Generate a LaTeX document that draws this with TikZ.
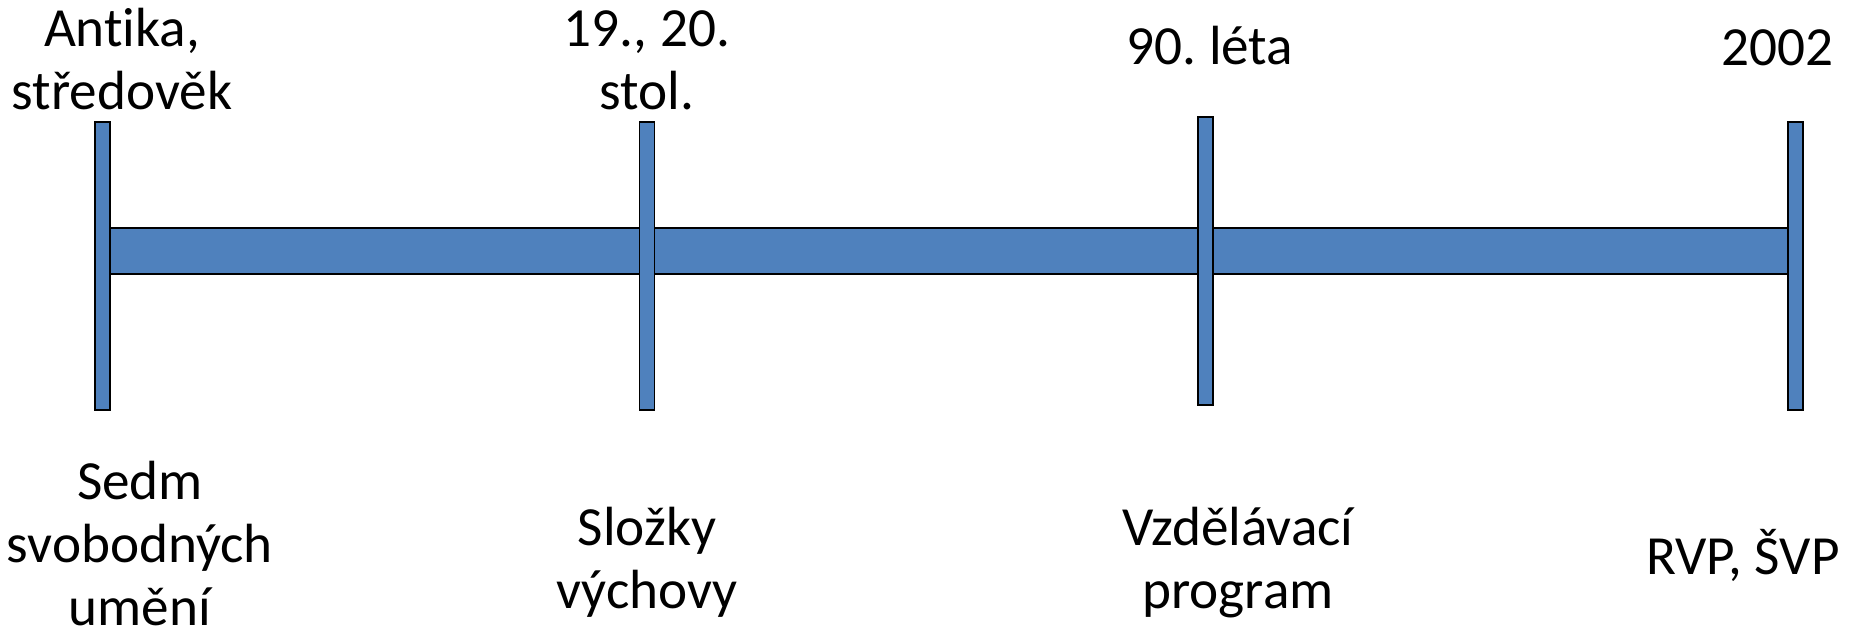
\documentclass[tikz,border=0pt]{standalone}
\usepackage{fontspec}
\setmainfont{Carlito}[Ligatures=NoCommon]
\frenchspacing
\definecolor{barblue}{RGB}{79,129,189}
\tikzset{
    tickbar/.style={draw=black, line width=0.37pt, fill=barblue, inner sep=0pt, minimum width=0.15cm, minimum height=2.88cm},
    lbl/.style={align=center, inner sep=0pt, anchor=base, font=\fontsize{15.7pt}{17.9pt}\selectfont}
}
\begin{document}
\begin{tikzpicture}[x=0.01cm, y=-0.01cm]
    \useasboundingbox (0,0) rectangle (1854,630);
    \node[draw=black, line width=0.37pt, fill=barblue, inner sep=0pt, minimum width=16.78cm, minimum height=0.46cm] (axis) at (949,251) {};
    \node[tickbar] (t1) at (102.5,266) {};
    \node[tickbar] (t2) at (647,266) {};
    \node[tickbar] (t3) at (1205.5,261) {};
    \node[tickbar] (t4) at (1795.5,266) {};
    % popisky nahore
    \node[lbl] (top1) at (122,109) {Antika,\\středověk};
    \node[lbl] (top2) at (647,109) {19., 20.\\stol.};
    \node[lbl] (top3) at (1210,64) {90. léta};
    \node[lbl] (top4) at (1777,65) {2002};
    % popisky dole
    \node[lbl] (bot1) at (140,625) {Sedm\\svobodných\\umění};
    \node[lbl] (bot2) at (647,608) {Složky\\výchovy};
    \node[lbl] (bot3) at (1238,608) {Vzdělávací\\program};
    \node[lbl] (bot4) at (1743,574) {RVP, ŠVP};
\end{tikzpicture}
\end{document}
